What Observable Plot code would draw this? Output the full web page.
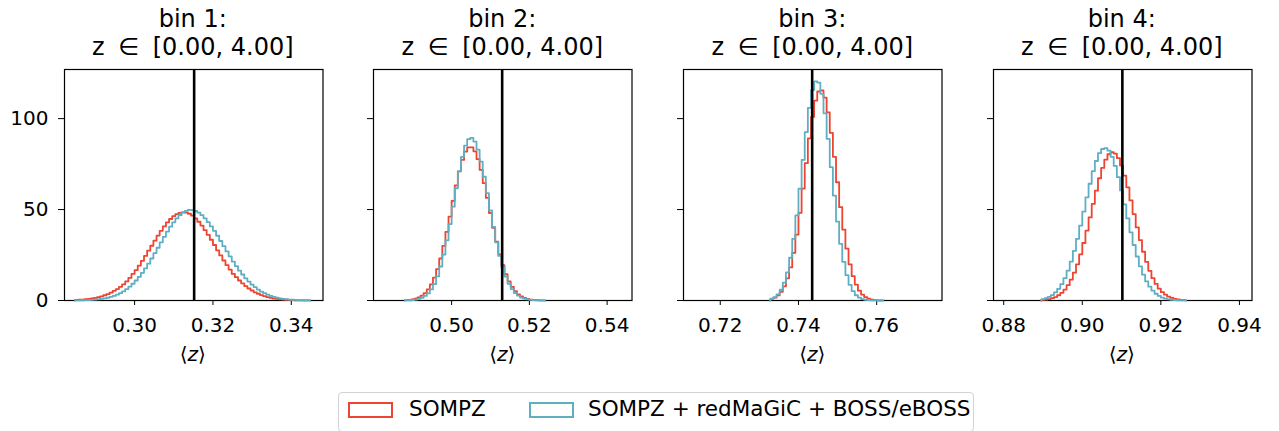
<!DOCTYPE html>
<html>
<head>
<meta charset="utf-8">
<script src="https://cdn.jsdelivr.net/npm/d3@7"></script>
<script src="https://cdn.jsdelivr.net/npm/@observablehq/plot@0.6"></script>
<style>
  html, body { margin: 0; padding: 0; background: #fff; }
  #root { position: relative; width: 1279px; height: 431px; overflow: hidden; font-family: "DejaVu Sans", sans-serif; color: #000; }
  .title { position: absolute; text-align: center; font-size: 24px; line-height: 28px; white-space: nowrap; }
  .title .elem { margin: 0 6px; }
  .xlabel { position: absolute; text-align: center; font-size: 20px; line-height: 24px; }
  .panel { position: absolute; }
  .legend { position: absolute; box-sizing: border-box; border: 1px solid #d3d3d3; border-radius: 4px; background: #fff; font-size: 21.5px; }
  .patch { position: absolute; box-sizing: border-box; border: 2px solid; }
  .ltext { position: absolute; line-height: 22px; white-space: nowrap; }
</style>
</head>
<body>
<div id="root"></div>
<script>
// ---------------- data ----------------
const binTitles = ["bin 1:", "bin 2:", "bin 3:", "bin 4:"];
const zRangeParts = ["z", "\u2208", "[0.00, 4.00]"];
const seriesNames = ["SOMPZ", "SOMPZ + redMaGiC + BOSS/eBOSS"];
const seriesColors = ["#ee4432", "#5fafc3"];
const xDomains = [[0.2821, 0.3481], [0.4799, 0.5464], [0.7106, 0.7767], [0.8774, 0.9432]];
const xTicks = [[0.30, 0.32, 0.34], [0.50, 0.52, 0.54], [0.72, 0.74, 0.76], [0.88, 0.90, 0.92, 0.94]];
const yTicks = [0, 50, 100];
const yMax = 127;
const meanZ = [0.3152, 0.5130, 0.7435, 0.9102];
const binStart = [0.2848, 0.4880, 0.7328, 0.8896];
const binWidth = 0.0008;

const sompz1 = [0.3,0.4,0.5,0.7,0.9,1.1,1.4,1.8,2.3,2.9, 3.5,4.3,5.3,6.3,7.5,8.9,10.5,12.4,14.6,16.7, 19.2,21.8,24.5,27.4,30.1,32.9,35.7,38.3,40.7,42.9, 44.8,46.4,47.5,48.2,48.5,48.3,47.7,46.7,45.2,43.3, 41.2,38.7,36.1,33.4,30.5,27.6,24.8,22.0,19.4,17.0, 14.6,12.8,11.0,9.4,7.9,6.6,5.5,4.5,3.7,3.0, 2.4,1.9,1.5,1.1,0.9,0.7,0.5,0.4,0.3,0.2, 0.15,0.1,0.07,0.05,0.03];
const combined1 = [0.07,0.1,0.13,0.19,0.26,0.36,0.5,0.66,0.88,1.17, 1.5,2.0,2.5,3.2,4.0,5.0,6.2,7.6,9.2,11.0, 13.0,15.2,17.7,20.3,23.1,26.0,29.0,32.0,35.0,37.9, 40.6,43.0,45.2,47.0,48.4,49.3,49.8,49.7,49.2,48.3, 46.9,45.2,43.1,40.8,38.3,35.6,32.7,29.9,27.0,24.3, 21.4,18.9,16.4,14.3,12.2,10.4,8.7,7.3,6.0,4.9, 4.0,3.2,2.5,2.0,1.6,1.2,0.9,0.7,0.5,0.4, 0.3,0.2,0.15,0.1,0.07];
const sompz2 = [0.2,0.36,0.6,1.0,1.7,2.7,4.1,6.1,8.9,12.6, 17.3,23.1,30.0,37.7,46.1,54.8,63.3,71.0,77.3,81.9, 84.2,84.2,82.0,77.7,71.8,64.5,56.4,48.1,40.0,32.3, 25.4,19.4,14.5,10.5,7.5,5.1,3.4,2.3,1.4,0.9, 0.5,0.3,0.2,0.1,0.05];
const combined2 = [0.07,0.14,0.27,0.5,0.9,1.5,2.5,3.9,6.1,9.0, 13.3,18.7,25.2,33.1,42.0,51.6,61.7,71.0,79.0,85.1, 88.7,89.4,87.4,82.9,76.3,68.1,59.0,49.6,40.5,32.0, 24.5,18.3,13.2,9.2,6.3,4.1,2.7,1.6,1.0,0.6, 0.33,0.2,0.1,0.05,0.03];
const sompz3 = [0.9,1.6,2.8,4.8,7.8,12.2,18.2,26.2,36.2,48.2, 61.5,75.5,89.1,100.9,109.9,114.9,115.5,111.5,103.4,92.2, 79.0,65.0,51.3,39.0,28.5,19.9,13.4,8.7,5.4,3.2, 1.9,1.0,0.5,0.25,0.12,0.05];
const combined3 = [1.0,1.8,3.4,5.9,9.8,15.5,23.5,33.9,46.8,61.5, 77.3,92.6,105.9,115.7,120.5,119.8,113.6,102.9,88.9,73.3, 57.7,43.4,31.1,21.2,13.9,8.6,5.1,2.9,1.6,0.8, 0.4,0.2,0.1,0.05,0,0];
const sompz4 = [0.3,0.5,0.8,1.3,1.9,2.9,4.2,6.0,8.4,11.5, 15.3,19.9,25.4,31.6,38.4,45.7,53.1,60.4,67.2,72.9, 77.4,80.4,81.5,80.8,78.3,74.2,68.7,62.2,55.0,47.5, 40.2,33.2,26.8,21.2,16.3,12.3,9.1,6.5,4.6,3.2, 2.1,1.4,0.9,0.6,0.35,0.2];
const combined4 = [0.8,1.3,2.0,3.0,4.5,6.4,9.0,12.3,16.4,21.4, 27.3,33.9,41.2,48.9,56.7,64.2,71.1,76.7,81.0,83.3, 83.8,82.4,79.0,74.0,67.8,60.5,52.8,45.1,37.5,30.5, 24.2,18.8,14.2,10.5,7.6,5.4,3.7,2.5,1.6,1.0, 0.65,0.4,0.25,0.15,0.08,0.04];

const sompzSeries = [sompz1, sompz2, sompz3, sompz4];
const combinedSeries = [combined1, combined2, combined3, combined4];

// ---------------- layout ----------------
const root = document.getElementById("root");
const boxLefts = [63.5, 373, 683, 992.5];
const boxW = 258.5, boxTop = 69, boxH = 231;
const mL = 60, mR = 15, mT = 8, mB = 40;

function stepPoints(start, width, values) {
  const pts = [{x: start, y: 0}];
  values.forEach((v, i) => pts.push({x: start + width * i, y: v}));
  pts.push({x: start + width * values.length, y: 0});
  return pts;
}

for (let p = 0; p < 4; p++) {
  const bl = boxLefts[p];
  // title
  const t = document.createElement("div");
  t.className = "title";
  t.style.left = (bl - 40) + "px";
  t.style.width = (boxW + 80) + "px";
  t.style.top = "4.5px";
  t.innerHTML = binTitles[p] + "<br>" + zRangeParts[0] + " <span class=\"elem\">" + zRangeParts[1] + "</span> " + zRangeParts[2];
  root.appendChild(t);

  const chart = Plot.plot({
    width: mL + boxW + mR,
    height: mT + boxH + mB,
    marginLeft: mL, marginRight: mR, marginTop: mT, marginBottom: mB,
    style: {background: "transparent", fontSize: "20px", fontFamily: "DejaVu Sans, sans-serif", overflow: "visible", color: "#000"},
    x: {domain: xDomains[p], ticks: xTicks[p], tickFormat: d3.format(".2f"), tickSize: 5, tickPadding: 12, label: null},
    y: {domain: [0, yMax], ticks: yTicks, tickSize: 6, tickPadding: 10, label: null,
        tickFormat: p === 0 ? (d => String(d)) : (() => "")},
    marks: [
      Plot.frame({stroke: "#000", strokeWidth: 1.2}),
      Plot.line(stepPoints(binStart[p], binWidth, sompzSeries[p]), {x: "x", y: "y", curve: "step-after", stroke: seriesColors[0], strokeWidth: 1.8}),
      Plot.line(stepPoints(binStart[p], binWidth, combinedSeries[p]), {x: "x", y: "y", curve: "step-after", stroke: seriesColors[1], strokeWidth: 1.8}),
      Plot.ruleX([meanZ[p]], {stroke: "#000", strokeWidth: 2.6})
    ]
  });
  const wrap = document.createElement("div");
  wrap.className = "panel";
  wrap.style.left = (bl - mL) + "px";
  wrap.style.top = (boxTop - mT) + "px";
  wrap.appendChild(chart);
  root.appendChild(wrap);

  const xl = document.createElement("div");
  xl.className = "xlabel";
  xl.style.left = bl + "px";
  xl.style.width = boxW + "px";
  xl.style.top = "342px";
  xl.innerHTML = "\u27E8<i>z</i>\u27E9";
  root.appendChild(xl);
}

// legend
const legend = document.createElement("div");
legend.className = "legend";
legend.style.left = "338px";
legend.style.top = "392px";
legend.style.width = "636px";
legend.style.height = "40px";
const patchLefts = [9, 190];
const textLefts = [70, 249];
seriesNames.forEach((name, i) => {
  const pa = document.createElement("div");
  pa.className = "patch";
  pa.style.borderColor = seriesColors[i];
  pa.style.left = patchLefts[i] + "px";
  pa.style.top = "9px";
  pa.style.width = "45px";
  pa.style.height = "16px";
  legend.appendChild(pa);
  const tx = document.createElement("div");
  tx.className = "ltext";
  tx.style.left = textLefts[i] + "px";
  tx.style.top = "5px";
  tx.textContent = name;
  legend.appendChild(tx);
});
root.appendChild(legend);
</script>
</body>
</html>
